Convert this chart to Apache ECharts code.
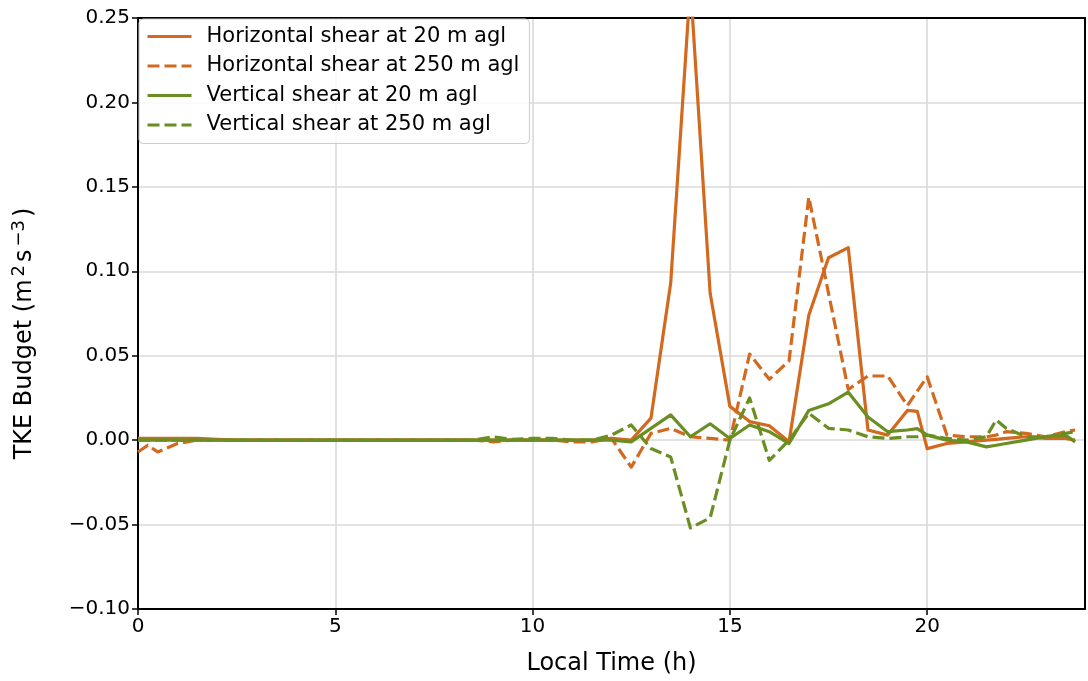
<!DOCTYPE html>
<html>
<head>
<meta charset="utf-8">
<script src="https://cdn.jsdelivr.net/npm/echarts@6/dist/echarts.min.js"></script>
<style>
  html, body { margin: 0; padding: 0; background: #fff; }
  #chart { width: 1088px; height: 681px; }
</style>
</head>
<body>
<div id="chart"></div>
<script>
// Local time of each sample (h)
const hours = [0, 0.25, 0.5, 1, 1.5, 2, 2.5, 3, 3.5, 4, 4.5, 5, 5.5, 6, 6.5, 7, 7.5, 8, 8.5,
  9, 9.5, 10, 10.5, 11, 11.5, 12, 12.5, 13, 13.5, 14, 14.5, 15, 15.5, 16, 16.5, 17, 17.5,
  18, 18.5, 19, 19.5, 19.75, 20, 20.5, 21, 21.5, 21.75, 22, 22.5, 23, 23.5, 23.75];

// TKE shear production terms (m2 s-3)
const horizShear20 = [0.001, 0.001, 0.001, 0.001, 0.001, 0.0005, 0, 0, 0, 0, 0, 0, 0, 0, 0, 0, 0, 0, 0,
  0, 0, 0, 0, 0, 0, 0.001, 0.0, 0.013, 0.093, 0.27, 0.087, 0.020, 0.011, 0.0085, -0.001, 0.074, 0.108,
  0.114, 0.006, 0.003, 0.0176, 0.017, -0.005, -0.002, -0.001, 0.0, 0.0005, 0.001, 0.002, 0.001, 0.001, 0.0];

const horizShear250 = [-0.007, -0.003, -0.007, -0.002, 0.0, 0, 0, 0, 0, 0, 0, 0, 0, 0, 0, 0, 0, 0, 0,
  -0.001, 0, 0, 0, -0.001, -0.001, 0.001, -0.016, 0.004, 0.007, 0.002, 0.001, 0.0, 0.051, 0.036, 0.047, 0.144, 0.087,
  0.030, 0.038, 0.038, 0.0205, 0.029, 0.0375, 0.003, 0.002, 0.002, 0.003, 0.005, 0.004, 0.002, 0.005, 0.006];

const vertShear20 = [0, 0, 0, 0, 0, 0, 0, 0, 0, 0, 0, 0, 0, 0, 0, 0, 0, 0, 0,
  0, 0, 0, 0, 0, 0, 0.0, -0.001, 0.007, 0.015, 0.002, 0.0097, 0.001, 0.009, 0.005, -0.002, 0.0176, 0.0215,
  0.0284, 0.0137, 0.005, 0.006, 0.0068, 0.003, 0.0, -0.001, -0.004, -0.003, -0.002, 0.0, 0.002, 0.003, -0.001];

const vertShear250 = [0, 0, 0, 0, 0, 0, 0, 0, 0, 0, 0, 0, 0, 0, 0, 0, 0, 0, 0,
  0.002, 0.0005, 0.001, 0.001, 0.0, 0.0, 0.003, 0.009, -0.005, -0.010, -0.052, -0.046, 0.0, 0.025, -0.012, 0.0, 0.016, 0.007,
  0.006, 0.002, 0.001, 0.002, 0.002, 0.003, 0.001, 0.0, 0.002, 0.012, 0.007, 0.002, 0.002, 0.004, 0.005];

const seriesNames = [
  'Horizontal shear at 20 m agl',
  'Horizontal shear at 250 m agl',
  'Vertical shear at 20 m agl',
  'Vertical shear at 250 m agl'
];

const ORANGE = '#d2691e';
const GREEN = '#6b8e23';
const FONT = 'DejaVu Sans';
const DASH = [12, 5];

function pairs(values) {
  return hours.map((h, i) => [h, values[i]]);
}

function lineSeries(name, values, color, dashed) {
  return {
    name: name,
    type: 'line',
    data: pairs(values),
    showSymbol: false,
    symbol: 'none',
    clip: true,
    animation: false,
    lineStyle: { color: color, width: 3.2, type: dashed ? DASH : 'solid', cap: 'butt', join: 'round' },
    itemStyle: { color: color }
  };
}

function fmtTick(v) {
  if (Math.abs(v) < 1e-9) return '0.00';
  return v.toFixed(2).replace('-', '\u2212');
}

// plain frame line for the top and right sides of the plot box
const frameAxis = {
  show: true,
  axisLine: { show: true, onZero: false, lineStyle: { color: '#000', width: 2 } },
  axisTick: { show: false },
  axisLabel: { show: false },
  splitLine: { show: false }
};

const chart = echarts.init(document.getElementById('chart'), null, { renderer: 'canvas' });

chart.setOption({
  backgroundColor: '#ffffff',
  animation: false,
  textStyle: { fontFamily: FONT },
  grid: { left: 138, right: 3, top: 18, bottom: 70 },
  legend: {
    orient: 'vertical',
    left: 139, top: 19,
    padding: [7, 10, 8, 7],
    itemWidth: 44,
    itemHeight: 14,
    itemGap: 8.5,
    backgroundColor: 'rgba(255,255,255,0.8)',
    borderColor: '#cccccc',
    borderWidth: 1,
    borderRadius: 4,
    itemStyle: { opacity: 0 },
    lineStyle: { width: 3 },
    textStyle: { fontFamily: FONT, fontSize: 21, color: '#000', padding: [0, 0, 0, 10] },
    data: seriesNames
  },
  xAxis: [{
    type: 'value',
    min: 0, max: 24, interval: 5,
    name: 'Local Time (h)',
    nameLocation: 'middle',
    nameGap: 43,
    nameTextStyle: { fontFamily: FONT, fontSize: 24, color: '#000' },
    axisLine: { show: true, onZero: false, lineStyle: { color: '#000', width: 2 } },
    axisTick: { show: true, inside: false, length: 6, lineStyle: { color: '#000', width: 1.5 } },
    axisLabel: { fontFamily: FONT, fontSize: 20, color: '#000', margin: 8, showMaxLabel: false },
    splitLine: { show: true, lineStyle: { color: '#dadada', width: 1.6 } }
  }, Object.assign({ type: 'value', position: 'top', min: 0, max: 24 }, frameAxis)],
  yAxis: [{
    type: 'value',
    min: -0.1, max: 0.25, interval: 0.05,
    name: 'TKE Budget (m{sup|2}s{sup|\u22123})',
    nameLocation: 'middle',
    nameGap: 98,
    nameRotate: 90,
    nameTextStyle: {
      fontFamily: FONT, fontSize: 24, color: '#000', lineHeight: 30,
      padding: [0, 40, 0, 0],
      rich: {
        sup: { fontFamily: FONT, fontSize: 18, color: '#000', lineHeight: 30, verticalAlign: 'top', padding: [0, 3, 0, 3] }
      }
    },
    axisLine: { show: true, onZero: false, lineStyle: { color: '#000', width: 2 } },
    axisTick: { show: true, inside: false, length: 6, lineStyle: { color: '#000', width: 1.5 } },
    axisLabel: { fontFamily: FONT, fontSize: 20, color: '#000', margin: 8, formatter: fmtTick },
    splitLine: { show: true, lineStyle: { color: '#dadada', width: 1.6 } }
  }, Object.assign({ type: 'value', position: 'right', min: -0.1, max: 0.25 }, frameAxis)],
  series: [
    lineSeries(seriesNames[0], horizShear20, ORANGE, false),
    lineSeries(seriesNames[1], horizShear250, ORANGE, true),
    lineSeries(seriesNames[2], vertShear20, GREEN, false),
    lineSeries(seriesNames[3], vertShear250, GREEN, true)
  ]
});
</script>
</body>
</html>
